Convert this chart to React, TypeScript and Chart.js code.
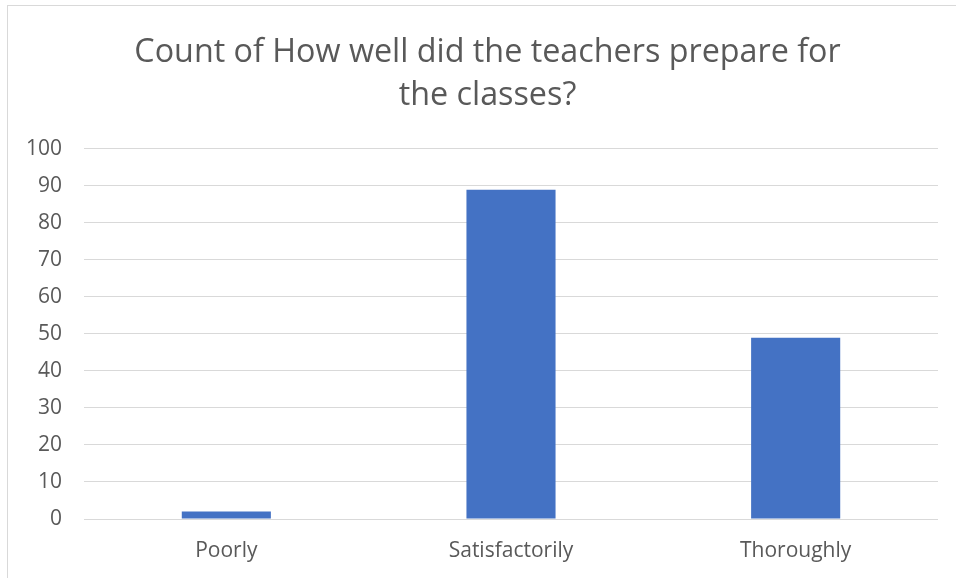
import React, { useEffect, useRef } from "react";
import { Chart, registerables } from "chart.js";

Chart.register(...registerables);

const categories: string[] = ["Poorly", "Satisfactorily", "Thoroughly"];
const counts: number[] = [2, 89, 49];
const titleLines: string[] = ["Count of How well did the teachers prepare for", "the classes?"];
const yMin = 0;
const yMax = 100;
const yStep = 10;

const TEXT = "#595959";
const GRID = "#d9d9d9";
const BAR = "#4472C4";
const FONT = "'Open Sans', Lato, sans-serif";

export default function App() {
  const ref = useRef<HTMLCanvasElement | null>(null);

  useEffect(() => {
    if (!ref.current) return;
    const chart = new Chart(ref.current, {
      type: "bar",
      data: {
        labels: categories,
        datasets: [
          {
            label: "Count",
            data: counts,
            backgroundColor: BAR,
            borderWidth: 0,
            categoryPercentage: 1,
            barPercentage: 0.313,
          },
        ],
      },
      options: {
        responsive: false,
        animation: false,
        layout: { padding: { left: 37, right: 18, top: 0, bottom: 0 } },
        plugins: {
          legend: { display: false },
          tooltip: { enabled: false },
          title: {
            display: true,
            text: titleLines,
            color: TEXT,
            font: { family: FONT, size: 32.3, weight: "normal", lineHeight: 1.33 },
            padding: { top: 31, bottom: 32 },
          },
        },
        scales: {
          x: {
            grid: { display: false, drawTicks: false },
            border: { display: false },
            ticks: { color: TEXT, font: { family: FONT, size: 21 }, padding: 19 },
            afterFit: (scale: any) => {
              scale.height = 59;
            },
          },
          y: {
            min: yMin,
            max: yMax,
            grid: { color: GRID, lineWidth: 1, drawTicks: false },
            border: { display: false },
            ticks: {
              stepSize: yStep,
              color: TEXT,
              font: { family: FONT, size: 21 },
              padding: 22,
            },
            afterFit: (scale: any) => {
              scale.width = 47;
              scale._computeLabelArea = () => undefined;
            },
          },
        },
      },
    });
    return () => chart.destroy();
  }, []);

  return (
    <div style={{ position: "fixed", left: 0, top: 0, width: 956, height: 578, background: "#fff", overflow: "hidden" }}>
      <canvas ref={ref} width={956} height={578} style={{ position: "absolute", left: 0, top: 0, width: 956, height: 578 }} />
      <div
        style={{
          position: "absolute",
          left: 7,
          top: 5,
          width: 960,
          height: 580,
          borderLeft: `1px solid ${GRID}`,
          borderTop: `1px solid ${GRID}`,
          pointerEvents: "none",
        }}
      />
    </div>
  );
}
